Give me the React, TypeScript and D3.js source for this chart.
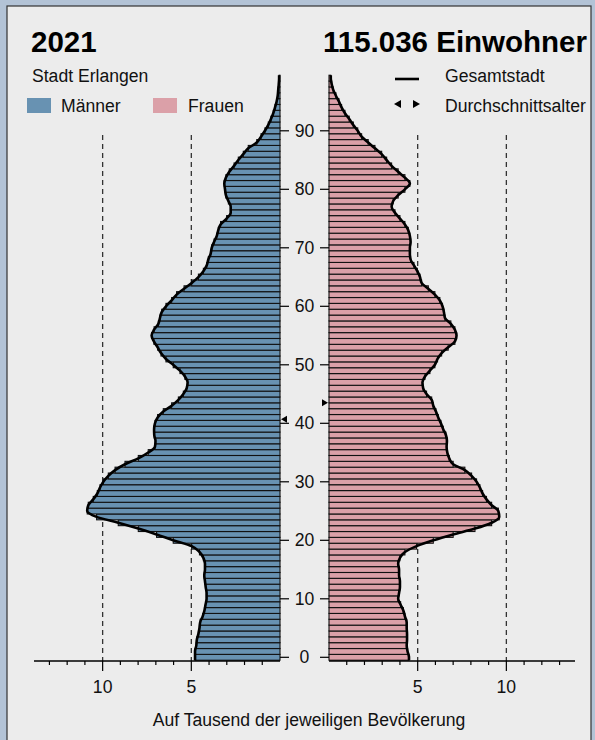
import React from "react";
import * as d3 from "d3";

const ages: number[] = d3.range(0, 100);
const maleValues: number[] = [
  4.79, 4.79, 4.72, 4.69, 4.6, 4.54, 4.5, 4.36, 4.26, 4.2,
  4.14, 4.14, 4.19, 4.23, 4.27, 4.23, 4.23, 4.32, 4.54, 4.98,
  6.02, 6.96, 7.99, 9.12, 10.34, 10.87, 10.81, 10.53, 10.3, 10.15,
  9.96, 9.68, 9.3, 8.74, 7.99, 7.43, 7.05, 7.02, 7.09, 7.1,
  7.05, 6.9, 6.58, 6.11, 5.73, 5.45, 5.26, 5.21, 5.36, 5.64,
  6.02, 6.43, 6.71, 6.9, 7.11, 7.24, 7.1, 6.86, 6.77, 6.67,
  6.43, 6.11, 5.83, 5.41, 4.98, 4.6, 4.32, 4.13, 4.04, 3.91,
  3.85, 3.72, 3.57, 3.48, 3.35, 3.01, 2.78, 2.78, 2.91, 3.05,
  3.1, 3.14, 3.05, 2.86, 2.59, 2.35, 2.07, 1.79, 1.31, 1.07,
  0.85, 0.66, 0.51, 0.38, 0.28, 0.19, 0.13, 0.1, 0.07, 0.05,
];
const femaleValues: number[] = [
  4.51, 4.43, 4.38, 4.4, 4.4, 4.38, 4.38, 4.28, 4.19, 4.04,
  3.9, 3.95, 4.0, 4.0, 3.95, 3.95, 3.9, 4.0, 4.28, 4.94,
  5.88, 7.0, 8.23, 9.17, 9.6, 9.55, 9.17, 8.88, 8.66, 8.51,
  8.32, 8.04, 7.66, 7.0, 6.78, 6.67, 6.63, 6.65, 6.59, 6.44,
  6.31, 6.16, 6.03, 5.88, 5.79, 5.5, 5.31, 5.27, 5.41, 5.69,
  5.97, 6.12, 6.35, 6.72, 7.1, 7.19, 7.1, 6.87, 6.54, 6.48,
  6.4, 6.25, 5.97, 5.6, 5.22, 5.13, 4.98, 4.79, 4.6, 4.56,
  4.56, 4.6, 4.56, 4.47, 4.28, 4.0, 3.72, 3.53, 3.62, 3.9,
  4.28, 4.56, 4.28, 3.9, 3.53, 3.25, 2.97, 2.59, 2.21, 1.84,
  1.62, 1.37, 1.14, 0.9, 0.71, 0.56, 0.39, 0.24, 0.15, 0.1,
];
const ageTicks: number[] = [0, 10, 20, 30, 40, 50, 60, 70, 80, 90];
const valueMajorTicks: number[] = [5, 10];
const valueMinorTicks: number[] = d3.range(1, 14);
const meanAgeMale = 40.7;
const meanAgeFemale = 43.5;
const titleYear = "2021";
const titlePop = "115.036 Einwohner";
const subtitle = "Stadt Erlangen";
const legendMale = "Männer";
const legendFemale = "Frauen";
const legendLine = "Gesamtstadt";
const legendMean = "Durchschnittsalter";
const axisTitle = "Auf Tausend der jeweiligen Bevölkerung";

const W = 595;
const H = 740;
const MALE_COLOR = "#6892b2";
const FEMALE_COLOR = "#dba0a8";
const FONT = "'Liberation Sans', Arial, Helvetica, sans-serif";
const FS = 17.6;

export default function App() {
  const vMax = 13.87;
  const xM = d3.scaleLinear().domain([0, vMax]).range([280, 34]);
  const xF = d3.scaleLinear().domain([0, vMax]).range([329, 575]);
  const y = d3.scaleLinear().domain([0, 90]).range([657.3, 130.8]);
  const band = y(0) - y(1);
  const axisY = 661;

  const profile = (vals: number[]) => {
    const pts: [number, number][] = [[vals[0], -0.5]];
    vals.forEach((v, i) => pts.push([v, ages[i]]));
    pts.push([vals[vals.length - 1], 99.5]);
    return pts;
  };

  const lineM = d3
    .line<[number, number]>()
    .x((d) => xM(d[0]))
    .y((d) => y(d[1]))
    .curve(d3.curveMonotoneY);
  const lineF = d3
    .line<[number, number]>()
    .x((d) => xF(d[0]))
    .y((d) => y(d[1]))
    .curve(d3.curveMonotoneY);

  const dashTop = 135;

  return (
    <div style={{ position: "absolute", left: 0, top: 0 }}>
      <svg width={W} height={H} style={{ display: "block", fontFamily: FONT }}>
        <rect x={0} y={0} width={W} height={H} fill="#b3c3d6" />
        <rect x={7} y={6} width={584} height={H} fill="#ececec" stroke="#333" strokeWidth={1.2} />

        {/* dashed reference lines */}
        {valueMajorTicks.map((t) => (
          <g key={"d" + t}>
            <line x1={xM(t)} x2={xM(t)} y1={dashTop} y2={axisY} stroke="#333" strokeWidth={1.3} strokeDasharray="5,4" />
            <line x1={xF(t)} x2={xF(t)} y1={dashTop} y2={axisY} stroke="#333" strokeWidth={1.3} strokeDasharray="5,4" />
          </g>
        ))}

        {/* bars */}
        {ages.map((a, i) => (
          <rect
            key={"m" + a}
            x={xM(maleValues[i])}
            y={y(a) - band / 2}
            width={xM(0) - xM(maleValues[i])}
            height={band}
            fill={MALE_COLOR}
            stroke="#111"
            strokeWidth={1.1}
          />
        ))}
        {ages.map((a, i) => (
          <rect
            key={"f" + a}
            x={xF(0)}
            y={y(a) - band / 2}
            width={xF(femaleValues[i]) - xF(0)}
            height={band}
            fill={FEMALE_COLOR}
            stroke="#111"
            strokeWidth={1.1}
          />
        ))}

        {/* Gesamtstadt profile lines */}
        <path d={lineM(profile(maleValues)) || ""} fill="none" stroke="#000" strokeWidth={2.6} strokeLinejoin="round" />
        <path d={lineF(profile(femaleValues)) || ""} fill="none" stroke="#000" strokeWidth={2.6} strokeLinejoin="round" />

        {/* age axis */}
        {ageTicks.map((t) => (
          <g key={"a" + t}>
            <line x1={280} x2={289} y1={y(t)} y2={y(t)} stroke="#000" strokeWidth={1.2} />
            <line x1={320} x2={329} y1={y(t)} y2={y(t)} stroke="#000" strokeWidth={1.2} />
            <text x={304.5} y={y(t)} dy="0.35em" textAnchor="middle" fontSize={FS} fill="#111">
              {t}
            </text>
          </g>
        ))}

        {/* mean age markers */}
        <path d={`M${xM(0) + 1},${y(meanAgeMale)} l6,-3.5 l0,7 z`} fill="#000" />
        <path d={`M${xF(0) - 1},${y(meanAgeFemale)} l-6,-3.5 l0,7 z`} fill="#000" />

        {/* value axis */}
        <line x1={xM(vMax)} x2={xM(0)} y1={axisY} y2={axisY} stroke="#000" strokeWidth={1.3} />
        <line x1={xF(0)} x2={xF(vMax)} y1={axisY} y2={axisY} stroke="#000" strokeWidth={1.3} />
        {valueMinorTicks.map((t) => (
          <g key={"mt" + t}>
            <line x1={xM(t)} x2={xM(t)} y1={axisY} y2={axisY + (t % 5 === 0 ? 10 : 4)} stroke="#000" strokeWidth={1.2} />
            <line x1={xF(t)} x2={xF(t)} y1={axisY} y2={axisY + (t % 5 === 0 ? 10 : 4)} stroke="#000" strokeWidth={1.2} />
          </g>
        ))}
        {valueMajorTicks.map((t) => (
          <g key={"ml" + t}>
            <text x={xM(t)} y={693} textAnchor="middle" fontSize={FS} fill="#111">{t}</text>
            <text x={xF(t)} y={693} textAnchor="middle" fontSize={FS} fill="#111">{t}</text>
          </g>
        ))}
        <text x={309} y={726} textAnchor="middle" fontSize={FS} fill="#111">{axisTitle}</text>

        {/* titles */}
        <text x={31} y={52} fontSize={29.5} fontWeight="bold" fill="#000">{titleYear}</text>
        <text x={587} y={52} fontSize={29.5} fontWeight="bold" textAnchor="end" fill="#000">{titlePop}</text>
        <text x={32} y={82} fontSize={FS} fill="#111">{subtitle}</text>

        {/* legend */}
        <rect x={27} y={98} width={24} height={15} fill={MALE_COLOR} />
        <text x={61} y={112} fontSize={FS} fill="#111">{legendMale}</text>
        <rect x={153} y={98} width={24} height={15} fill={FEMALE_COLOR} />
        <text x={188} y={112} fontSize={FS} fill="#111">{legendFemale}</text>

        <line x1={395} x2={419} y1={79} y2={79} stroke="#000" strokeWidth={2.6} />
        <text x={445} y={82} fontSize={FS} fill="#111">{legendLine}</text>
        <path d="M394,104 l7,-4 l0,8 z" fill="#000" />
        <path d="M420,104 l-7,-4 l0,8 z" fill="#000" />
        <text x={445} y={112} fontSize={FS} fill="#111">{legendMean}</text>
      </svg>
    </div>
  );
}
